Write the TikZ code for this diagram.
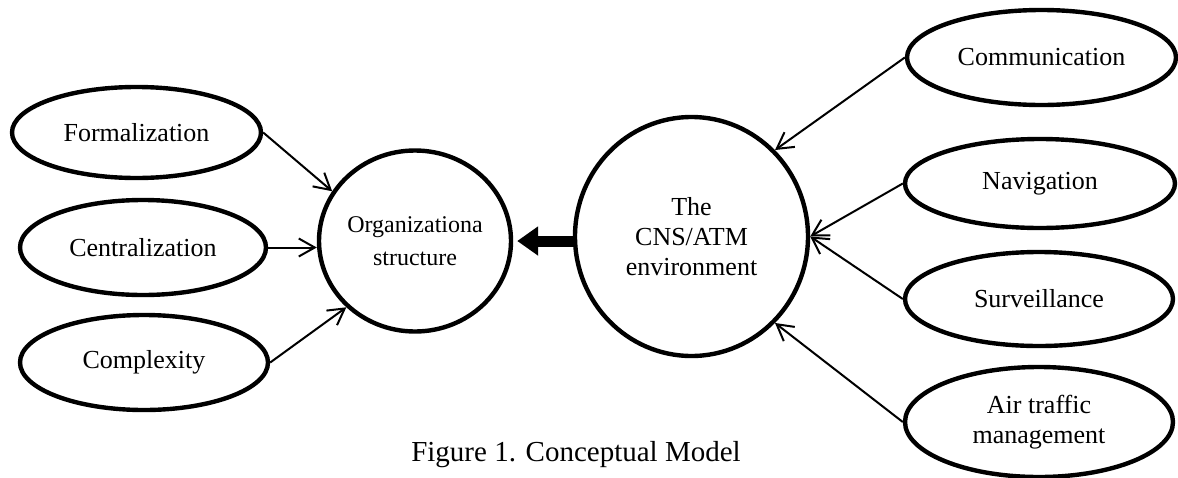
\documentclass[tikz,border=0pt]{standalone}
\usepackage{fontspec}
\setmainfont{Liberation Serif}
\usetikzlibrary{shapes.geometric,arrows.meta}
\begin{document}
\begin{tikzpicture}[x=0.5pt,y=-0.5pt,
  oval/.style={draw, ellipse, line width=2.2pt, inner sep=0pt, align=center, font=\fontsize{13}{15}\selectfont},
  link/.style={-{Straight Barb[length=8pt,width=9pt]}, line width=1pt},
  big/.style={-{Triangle[length=10.5pt,width=14pt]}, line width=5.5pt, shorten >=2pt}]
\path[use as bounding box] (0,0) rectangle (1178,477);
\node[oval, minimum width=124.5pt, minimum height=45.5pt] (form) at (136.5,132.5) {Formalization};
\node[oval, minimum width=123pt, minimum height=47.5pt] (cent) at (143,247.5) {Centralization};
\node[oval, minimum width=124pt, minimum height=47.5pt] (comp) at (144,362.5) {Complexity};
\node[oval, minimum width=96pt, minimum height=90.5pt, font=\fontsize{12}{16.5}\selectfont] (org) at (415,241) {Organizationa\\structure};
\node[oval, minimum width=116.5pt, minimum height=119.5pt] (cns) at (691.5,236.5) {The\\CNS/ATM\\environment};
\node[oval, minimum width=134.5pt, minimum height=47.5pt] (comm) at (1041.5,57.5) {Communication};
\node[oval, minimum width=135pt, minimum height=44.5pt] (nav) at (1040,183.5) {Navigation};
\node[oval, minimum width=134pt, minimum height=47pt] (surv) at (1039,299) {Surveillance};
\node[oval, minimum width=134pt, minimum height=55pt] (atm) at (1039,422) {Air traffic\\management};
\node[font=\fontsize{14.5}{17}\selectfont, inner sep=0pt] (cap) at (576,455) {Figure 1. Conceptual Model};
\draw[link] (form.east) -- (org.149);
\draw[link] (cent.east) -- (cent.east -| org.west);
\draw[link] (comp.east) -- (org.224);
\draw[link] (comm.west) -- (cns.46);
\draw[link] (nav.west) -- (cns.east);
\draw[link] (surv.west) -- (cns.east);
\draw[link] (atm.west) -- (cns.314);
\draw[big] (cns.west |- org.east) -- (org.east);
\end{tikzpicture}
\end{document}
